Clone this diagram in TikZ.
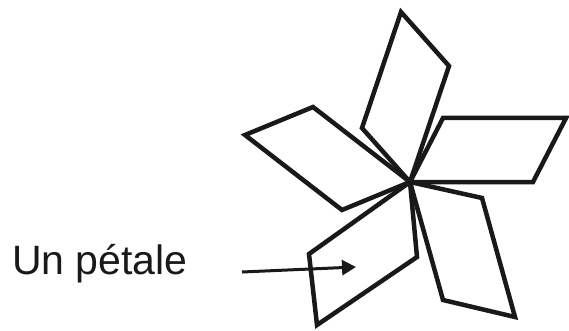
\documentclass[tikz,border=0pt]{standalone}
\usepackage{fontspec}
\setmainfont{Liberation Sans}
\usetikzlibrary{arrows.meta}
\begin{document}
\begin{tikzpicture}[x=1pt,y=-1pt,
  petal/.style={draw=black!90,line width=4.5pt,line join=miter},
  pointer/.style={draw=black!90,line width=3pt,-{Triangle[length=14pt,width=15pt]}},
  lbl/.style={font=\fontsize{41}{45}\selectfont,text=black!90,inner sep=0pt,anchor=base west}]
\useasboundingbox (0,0) rectangle (569,331);
\coordinate (c) at (410,182);
% top petal
\draw[petal] (c) -- (362,128) -- (401,12) -- (449,66) -- cycle;
% left petal
\draw[petal] (c) -- (313,107) -- (245,135) -- (342,210) -- cycle;
% right petal
\draw[petal] (c) -- (533,182) -- (566,118) -- (443,118) -- cycle;
% bottom-right petal
\draw[petal] (c) -- (482,198) -- (515,317) -- (443,300) -- cycle;
% bottom-left petal
\draw[petal] (c) -- (417,257) -- (317,325) -- (309,254) -- cycle;
\node[lbl] (t) at (12,274) {Un pétale};
\coordinate (a0) at (242,272);
\coordinate (a1) at (356,267);
\draw[pointer] (a0) -- (a1);
\end{tikzpicture}
\end{document}
